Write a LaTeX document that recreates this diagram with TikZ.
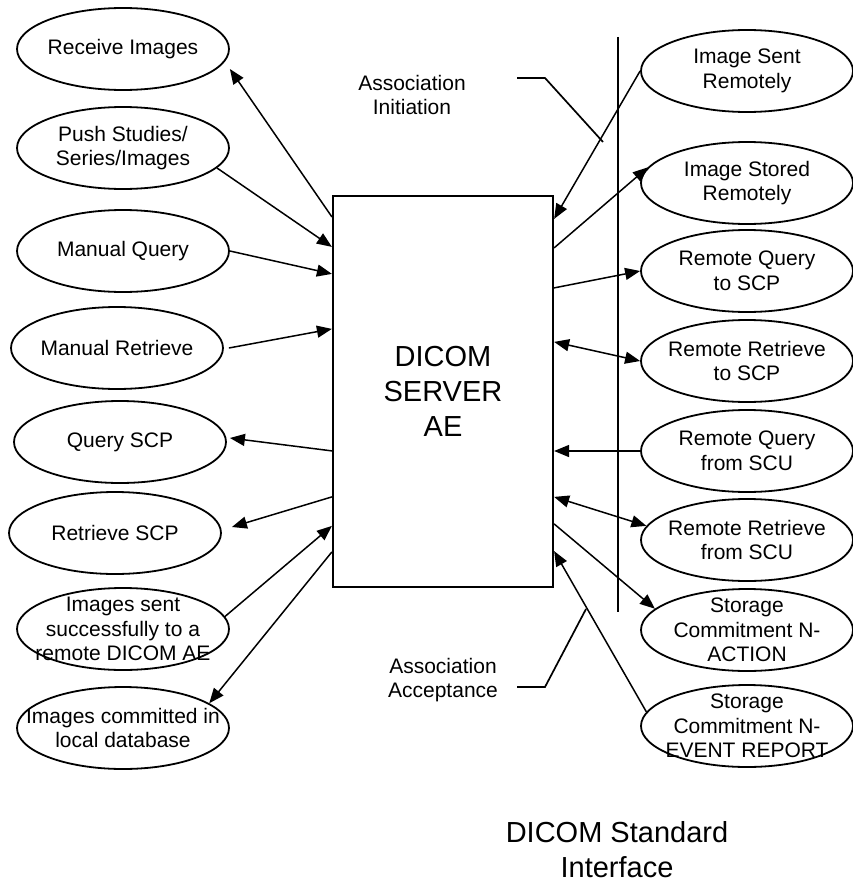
\documentclass[tikz,border=0pt]{standalone}
\usepackage{fontspec}
\setmainfont{Liberation Sans}
\usetikzlibrary{arrows.meta,shapes.geometric}

\tikzset{
  ell/.style = {draw, ellipse, line width=1.8pt, minimum width=212pt, minimum height=82pt, inner sep=0pt},
  txt/.style = {align=center, font=\fontsize{21}{24.5}\selectfont},
  big/.style = {align=center, font=\fontsize{29}{35}\selectfont},
  arr/.style = {line width=1.5pt, -{Triangle[length=15pt,width=12pt]}},
  dbl/.style = {line width=1.5pt, {Triangle[length=15pt,width=12pt]}-{Triangle[length=15pt,width=12pt]}},
}

\begin{document}
\begin{tikzpicture}[x=1pt, y=-1pt]
        \useasboundingbox (0,0) rectangle (853,883);
        % server box
        \node[draw, line width=2.2pt, minimum width=220pt, minimum height=391pt, inner sep=0pt, big] (srv) at (443,391.5) {DICOM\\SERVER\\AE};
        % left side
        \node[ell, label={[txt]center:Receive Images}] (rcv) at (123,49) {};
        \node[ell, label={[txt]center:Push Studies/\\Series/Images}] (push) at (123,148) {};
        \node[ell, label={[txt]center:Manual Query}] (mq) at (123,251) {};
        \node[ell, label={[txt]center:Manual Retrieve}] (mr) at (117,348) {};
        \node[ell, label={[txt]center:Query SCP}] (qscp) at (120,442) {};
        \node[ell, label={[txt]center:Retrieve SCP}] (rscp) at (115,533) {};
        \node[ell, label={[txt]center:Images sent\\successfully to a\\remote DICOM AE}] (isent) at (123,629) {};
        \node[ell, label={[txt]center:Images committed in\\local database}] (icom) at (123,728) {};
        % right side
        \node[ell, label={[txt]center:Image Sent\\Remotely}] (isr) at (747,71) {};
        \node[ell, label={[txt]center:Image Stored\\Remotely}] (istr) at (747,183) {};
        \node[ell, label={[txt]center:Remote Query\\to SCP}] (rqto) at (747,271) {};
        \node[ell, label={[txt]center:Remote Retrieve\\to SCP}] (rrto) at (747,361) {};
        \node[ell, label={[txt]center:Remote Query\\from SCU}] (rqfrom) at (747,451) {};
        \node[ell, label={[txt]center:Remote Retrieve\\from SCU}] (rrfrom) at (747,540) {};
        \node[ell, label={[txt]center:Storage\\Commitment N-\\ACTION}] (sna) at (747,630) {};
        \node[ell, label={[txt]center:Storage\\Commitment N-\\EVENT REPORT}] (ser) at (747,726) {};
        % labels
        \node[txt] (ainit) at (412,95) {Association\\Initiation};
        \node[txt] (aacc) at (443,680) {Association\\Acceptance};
        \node[big] (std) at (617,850) {DICOM Standard\\Interface};
        % interface line and pointers
        \draw[line width=1.7pt] (618,37) -- (618,612);
        \coordinate (ini1) at (517,78);
        \coordinate (ini2) at (545,78);
        \coordinate (ini3) at (603,142);
        \coordinate (acc1) at (517,687);
        \coordinate (acc2) at (545,687);
        \coordinate (acc3) at (586,609);
        \draw[line width=1.7pt] (ini1) -- (ini2) -- (ini3);
        \draw[line width=1.7pt] (acc1) -- (acc2) -- (acc3);
        % left arrows
        \draw[arr] ([yshift=-22pt]srv.north west) -- ([yshift=-20pt]rcv.east);
        \draw[arr] (push.-12) -- ([yshift=-52pt]srv.north west);
        \draw[arr] (mq.east) -- ([yshift=-79pt]srv.north west);
        \draw[arr] ([xshift=5pt]mr.east) -- ([yshift=-134pt]srv.north west);
        \draw[arr] ([yshift=-256pt]srv.north west) -- ([xshift=3pt,yshift=4pt]qscp.east);
        \draw[arr] ([yshift=-302pt]srv.north west) -- ([xshift=10pt,yshift=6pt]rscp.east);
        \draw[arr] (isent.7) -- ([yshift=-331pt]srv.north west);
        \draw[arr] ([yshift=-357pt]srv.north west) -- (icom.16);
        % right arrows
        \draw[arr] (isr.west) -- ([yshift=-24pt]srv.north east);
        \draw[arr] ([yshift=-53pt]srv.north east) -- (istr.171);
        \draw[arr] ([yshift=-93pt]srv.north east) -- (rqto.west);
        \draw[dbl] ([yshift=-147pt]srv.north east) -- (rrto.west);
        \draw[arr] (rqfrom.west) -- (srv.east |- rqfrom.west);
        \draw[dbl] ([yshift=-302pt]srv.north east) -- (rrfrom.172);
        \draw[arr] ([yshift=-329pt]srv.north east) -- (sna.167);
        \draw[arr] (ser.172) -- ([yshift=37pt]srv.south east);
    \end{tikzpicture}
\end{document}
